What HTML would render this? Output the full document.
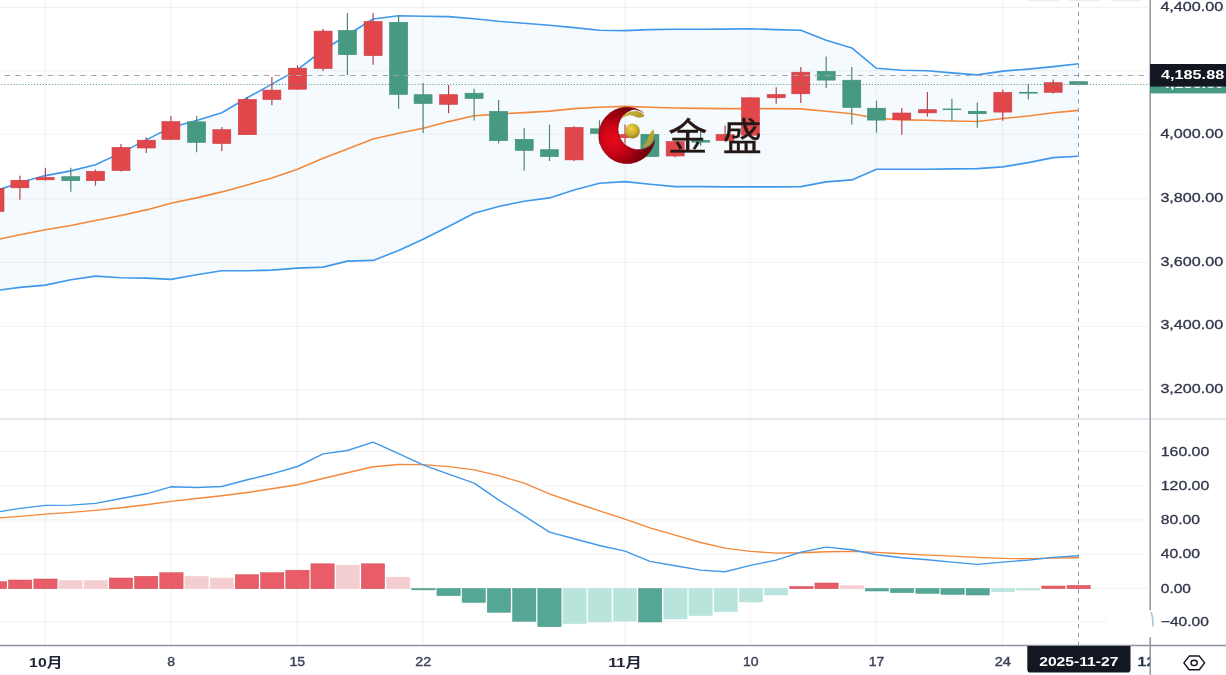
<!DOCTYPE html>
<html lang="zh"><head><meta charset="utf-8"><title>chart</title>
<style>html,body{margin:0;padding:0;background:#fff}body{width:1226px;height:675px;overflow:hidden}svg{display:block}text{font-family:"Liberation Sans","Noto Sans CJK SC",sans-serif}</style></head><body>
<svg width="1226" height="675" viewBox="0 0 1226 675">
<defs><radialGradient id="rg" gradientUnits="userSpaceOnUse" cx="614" cy="139.5" r="34"><stop offset="0" stop-color="#e80a1b"/><stop offset="0.35" stop-color="#cf0517"/><stop offset="0.7" stop-color="#a00010"/><stop offset="1" stop-color="#70000a"/></radialGradient><radialGradient id="gb" gradientUnits="userSpaceOnUse" cx="631" cy="128.5" r="10"><stop offset="0" stop-color="#efd648"/><stop offset="0.6" stop-color="#c9ae2e"/><stop offset="1" stop-color="#9c8620"/></radialGradient><linearGradient id="gl" x1="0" y1="0" x2="1" y2="1"><stop offset="0" stop-color="#d2b936"/><stop offset="1" stop-color="#a8902a"/></linearGradient></defs>
<rect width="1226" height="675" fill="#fff"/>
<rect x="1028.0" y="-3" width="31.0" height="4.2" rx="2" fill="#eceef2"/>
<rect x="1069.2" y="-3" width="30.7" height="4.2" rx="2" fill="#eceef2"/>
<rect x="1110.3" y="-3" width="31.3" height="4.2" rx="2" fill="#eceef2"/>
<line x1="0" x2="1148" y1="7.4" y2="7.4" stroke="#000" stroke-opacity="0.05" stroke-width="1.15"/>
<line x1="0" x2="1148" y1="70.7" y2="70.7" stroke="#000" stroke-opacity="0.05" stroke-width="1.15"/>
<line x1="0" x2="1148" y1="134.2" y2="134.2" stroke="#000" stroke-opacity="0.05" stroke-width="1.15"/>
<line x1="0" x2="1148" y1="198.8" y2="198.8" stroke="#000" stroke-opacity="0.05" stroke-width="1.15"/>
<line x1="0" x2="1148" y1="262.5" y2="262.5" stroke="#000" stroke-opacity="0.05" stroke-width="1.15"/>
<line x1="0" x2="1148" y1="326.5" y2="326.5" stroke="#000" stroke-opacity="0.05" stroke-width="1.15"/>
<line x1="0" x2="1148" y1="390.0" y2="390.0" stroke="#000" stroke-opacity="0.05" stroke-width="1.15"/>
<line x1="0" x2="1148" y1="451.4" y2="451.4" stroke="#000" stroke-opacity="0.05" stroke-width="1.15"/>
<line x1="0" x2="1148" y1="485.7" y2="485.7" stroke="#000" stroke-opacity="0.05" stroke-width="1.15"/>
<line x1="0" x2="1148" y1="519.9" y2="519.9" stroke="#000" stroke-opacity="0.05" stroke-width="1.15"/>
<line x1="0" x2="1148" y1="554.0" y2="554.0" stroke="#000" stroke-opacity="0.05" stroke-width="1.15"/>
<line x1="0" x2="1148" y1="588.3" y2="588.3" stroke="#000" stroke-opacity="0.05" stroke-width="1.15"/>
<line x1="0" x2="1107" y1="621.6" y2="621.6" stroke="#000" stroke-opacity="0.05" stroke-width="1.15"/>
<line x1="45.0" x2="45.0" y1="0" y2="645" stroke="#000" stroke-opacity="0.035" stroke-width="1.8"/>
<line x1="171.0" x2="171.0" y1="0" y2="645" stroke="#000" stroke-opacity="0.035" stroke-width="1.8"/>
<line x1="297.0" x2="297.0" y1="0" y2="645" stroke="#000" stroke-opacity="0.035" stroke-width="1.8"/>
<line x1="423.0" x2="423.0" y1="0" y2="645" stroke="#000" stroke-opacity="0.035" stroke-width="1.8"/>
<line x1="625.0" x2="625.0" y1="0" y2="645" stroke="#000" stroke-opacity="0.035" stroke-width="1.8"/>
<line x1="750.4" x2="750.4" y1="0" y2="645" stroke="#000" stroke-opacity="0.035" stroke-width="1.8"/>
<line x1="876.4" x2="876.4" y1="0" y2="645" stroke="#000" stroke-opacity="0.035" stroke-width="1.8"/>
<line x1="1002.5" x2="1002.5" y1="0" y2="645" stroke="#000" stroke-opacity="0.035" stroke-width="1.8"/>
<polygon points="-5.0,191.2 19.9,182.5 45.4,175.6 70.8,170.9 95.5,164.8 121.0,152.9 146.3,139.9 170.9,127.4 196.6,120.6 221.8,112.8 247.3,97.8 271.9,84.1 297.5,69.6 323.1,50.0 347.4,35.0 373.1,19.0 398.6,15.8 423.1,16.3 448.6,16.6 474.1,18.8 498.6,21.3 524.2,23.3 549.5,25.3 574.1,27.6 599.5,30.3 625.0,30.6 649.9,29.6 675.2,29.3 700.6,29.3 725.1,29.1 750.5,28.8 776.2,29.6 800.8,30.3 826.2,40.3 851.8,47.9 876.5,68.3 901.8,70.3 927.4,70.8 951.9,72.9 977.3,74.9 1002.8,71.1 1028.3,69.1 1053.2,66.6 1078.7,63.8 1078.7,156.3 1053.2,157.6 1028.3,162.6 1002.8,166.9 977.3,168.6 951.9,168.9 927.4,169.3 901.8,169.3 876.5,169.3 851.8,179.9 826.2,181.9 800.8,186.6 776.2,186.9 750.5,186.9 725.1,186.9 700.6,186.6 675.2,186.6 649.9,184.2 625.0,181.6 599.5,183.2 574.1,189.9 549.5,197.9 524.2,201.2 498.6,206.5 474.1,213.2 448.6,226.5 423.1,239.2 398.6,250.5 373.1,260.4 347.4,261.1 323.1,267.1 297.5,268.1 271.9,270.1 247.3,270.8 221.8,270.8 196.6,274.8 170.9,279.4 146.3,278.1 121.0,277.8 95.5,276.1 70.8,279.8 45.4,285.1 19.9,287.4 -5.0,290.6" fill="#2196f3" fill-opacity="0.048"/>
<line x1="0" x2="1226" y1="419" y2="419" stroke="#dfe2ea" stroke-width="1.4"/>
<polyline fill="none" stroke="#f3883a" stroke-width="1.6" stroke-linejoin="round" points="-5.0,240.1 19.9,234.8 45.4,229.8 70.8,225.5 95.5,220.5 121.0,215.5 146.3,209.9 170.9,203.2 196.6,197.9 221.8,191.9 247.3,184.9 271.9,177.9 297.5,169.3 323.1,158.3 347.4,149.0 373.1,139.0 398.6,133.3 423.1,128.2 448.6,121.6 474.1,115.8 498.6,114.1 524.2,112.6 549.5,111.1 574.1,108.6 599.5,107.2 625.0,106.4 649.9,107.2 675.2,108.0 700.6,108.4 725.1,108.6 750.5,108.6 776.2,108.6 800.8,108.9 826.2,111.2 851.8,113.7 876.5,118.2 901.8,119.9 927.4,120.2 951.9,121.0 977.3,121.5 1002.8,118.5 1028.3,116.0 1053.2,112.7 1078.7,110.4"/>
<polyline fill="none" stroke="#3f98e9" stroke-width="1.6" stroke-linejoin="round" points="-5.0,191.2 19.9,182.5 45.4,175.6 70.8,170.9 95.5,164.8 121.0,152.9 146.3,139.9 170.9,127.4 196.6,120.6 221.8,112.8 247.3,97.8 271.9,84.1 297.5,69.6 323.1,50.0 347.4,35.0 373.1,19.0 398.6,15.8 423.1,16.3 448.6,16.6 474.1,18.8 498.6,21.3 524.2,23.3 549.5,25.3 574.1,27.6 599.5,30.3 625.0,30.6 649.9,29.6 675.2,29.3 700.6,29.3 725.1,29.1 750.5,28.8 776.2,29.6 800.8,30.3 826.2,40.3 851.8,47.9 876.5,68.3 901.8,70.3 927.4,70.8 951.9,72.9 977.3,74.9 1002.8,71.1 1028.3,69.1 1053.2,66.6 1078.7,63.8"/>
<polyline fill="none" stroke="#3f98e9" stroke-width="1.6" stroke-linejoin="round" points="-5.0,290.6 19.9,287.4 45.4,285.1 70.8,279.8 95.5,276.1 121.0,277.8 146.3,278.1 170.9,279.4 196.6,274.8 221.8,270.8 247.3,270.8 271.9,270.1 297.5,268.1 323.1,267.1 347.4,261.1 373.1,260.4 398.6,250.5 423.1,239.2 448.6,226.5 474.1,213.2 498.6,206.5 524.2,201.2 549.5,197.9 574.1,189.9 599.5,183.2 625.0,181.6 649.9,184.2 675.2,186.6 700.6,186.6 725.1,186.9 750.5,186.9 776.2,186.9 800.8,186.6 826.2,181.9 851.8,179.9 876.5,169.3 901.8,169.3 927.4,169.3 951.9,168.9 977.3,168.6 1002.8,166.9 1028.3,162.6 1053.2,157.6 1078.7,156.3"/>
<line x1="-5.0" x2="-5.0" y1="186.0" y2="213.0" stroke="#b2464e" stroke-width="1.2"/>
<rect x="-14.0" y="188.3" width="18" height="23.1" fill="#e1464b" stroke="#c83c45" stroke-width="0.6"/>
<line x1="19.9" x2="19.9" y1="175.7" y2="199.8" stroke="#b2464e" stroke-width="1.2"/>
<rect x="10.9" y="180.3" width="18" height="7.5" fill="#e1464b" stroke="#c83c45" stroke-width="0.6"/>
<line x1="45.4" x2="45.4" y1="167.8" y2="180.8" stroke="#b2464e" stroke-width="1.2"/>
<rect x="36.0" y="177.1" width="18.6" height="3.0" fill="#e1464b"/>
<line x1="70.8" x2="70.8" y1="167.8" y2="191.8" stroke="#4f8a6c" stroke-width="1.2"/>
<rect x="61.8" y="176.7" width="18" height="4.0" fill="#469a82" stroke="#3e8d76" stroke-width="0.6"/>
<line x1="95.5" x2="95.5" y1="169.5" y2="185.7" stroke="#b2464e" stroke-width="1.2"/>
<rect x="86.5" y="171.3" width="18" height="9.4" fill="#e1464b" stroke="#c83c45" stroke-width="0.6"/>
<line x1="121.0" x2="121.0" y1="144.0" y2="171.5" stroke="#b2464e" stroke-width="1.2"/>
<rect x="112.0" y="147.4" width="18" height="23.1" fill="#e1464b" stroke="#c83c45" stroke-width="0.6"/>
<line x1="146.3" x2="146.3" y1="137.3" y2="153.1" stroke="#b2464e" stroke-width="1.2"/>
<rect x="137.3" y="140.2" width="18" height="7.8" fill="#e1464b" stroke="#c83c45" stroke-width="0.6"/>
<line x1="170.9" x2="170.9" y1="116.1" y2="139.7" stroke="#b2464e" stroke-width="1.2"/>
<rect x="161.9" y="121.6" width="18" height="17.8" fill="#e1464b" stroke="#c83c45" stroke-width="0.6"/>
<line x1="196.6" x2="196.6" y1="116.0" y2="152.3" stroke="#4f8a6c" stroke-width="1.2"/>
<rect x="187.6" y="121.8" width="18" height="20.6" fill="#469a82" stroke="#3e8d76" stroke-width="0.6"/>
<line x1="221.8" x2="221.8" y1="127.0" y2="151.0" stroke="#b2464e" stroke-width="1.2"/>
<rect x="212.8" y="129.7" width="18" height="13.8" fill="#e1464b" stroke="#c83c45" stroke-width="0.6"/>
<line x1="247.3" x2="247.3" y1="97.0" y2="135.0" stroke="#b2464e" stroke-width="1.2"/>
<rect x="238.3" y="99.4" width="18" height="35.3" fill="#e1464b" stroke="#c83c45" stroke-width="0.6"/>
<line x1="271.9" x2="271.9" y1="77.0" y2="105.2" stroke="#b2464e" stroke-width="1.2"/>
<rect x="262.9" y="90.1" width="18" height="9.4" fill="#e1464b" stroke="#c83c45" stroke-width="0.6"/>
<line x1="297.5" x2="297.5" y1="65.2" y2="89.5" stroke="#b2464e" stroke-width="1.2"/>
<rect x="288.5" y="68.2" width="18" height="21.0" fill="#e1464b" stroke="#c83c45" stroke-width="0.6"/>
<line x1="323.1" x2="323.1" y1="29.1" y2="71.0" stroke="#b2464e" stroke-width="1.2"/>
<rect x="314.1" y="31.1" width="18" height="37.4" fill="#e1464b" stroke="#c83c45" stroke-width="0.6"/>
<line x1="347.4" x2="347.4" y1="13.0" y2="74.9" stroke="#4f8a6c" stroke-width="1.2"/>
<rect x="338.4" y="30.4" width="18" height="24.3" fill="#469a82" stroke="#3e8d76" stroke-width="0.6"/>
<line x1="373.1" x2="373.1" y1="13.0" y2="64.8" stroke="#b2464e" stroke-width="1.2"/>
<rect x="364.1" y="21.5" width="18" height="34.1" fill="#e1464b" stroke="#c83c45" stroke-width="0.6"/>
<line x1="398.6" x2="398.6" y1="15.0" y2="108.8" stroke="#4f8a6c" stroke-width="1.2"/>
<rect x="389.6" y="22.3" width="18" height="72.1" fill="#469a82" stroke="#3e8d76" stroke-width="0.6"/>
<line x1="423.1" x2="423.1" y1="83.0" y2="132.9" stroke="#4f8a6c" stroke-width="1.2"/>
<rect x="414.1" y="94.7" width="18" height="8.8" fill="#469a82" stroke="#3e8d76" stroke-width="0.6"/>
<line x1="448.6" x2="448.6" y1="85.0" y2="113.3" stroke="#b2464e" stroke-width="1.2"/>
<rect x="439.6" y="94.7" width="18" height="9.6" fill="#e1464b" stroke="#c83c45" stroke-width="0.6"/>
<line x1="474.1" x2="474.1" y1="88.8" y2="120.4" stroke="#4f8a6c" stroke-width="1.2"/>
<rect x="465.1" y="93.2" width="18" height="5.3" fill="#469a82" stroke="#3e8d76" stroke-width="0.6"/>
<line x1="498.6" x2="498.6" y1="100.0" y2="143.6" stroke="#4f8a6c" stroke-width="1.2"/>
<rect x="489.6" y="111.4" width="18" height="29.3" fill="#469a82" stroke="#3e8d76" stroke-width="0.6"/>
<line x1="524.2" x2="524.2" y1="127.9" y2="170.7" stroke="#4f8a6c" stroke-width="1.2"/>
<rect x="515.2" y="139.3" width="18" height="11.1" fill="#469a82" stroke="#3e8d76" stroke-width="0.6"/>
<line x1="549.5" x2="549.5" y1="124.6" y2="161.0" stroke="#4f8a6c" stroke-width="1.2"/>
<rect x="540.5" y="149.7" width="18" height="6.9" fill="#469a82" stroke="#3e8d76" stroke-width="0.6"/>
<line x1="574.1" x2="574.1" y1="126.3" y2="161.0" stroke="#b2464e" stroke-width="1.2"/>
<rect x="565.1" y="127.4" width="18" height="32.5" fill="#e1464b" stroke="#c83c45" stroke-width="0.6"/>
<line x1="599.5" x2="599.5" y1="120.2" y2="143.6" stroke="#4f8a6c" stroke-width="1.2"/>
<rect x="590.5" y="128.8" width="18" height="4.6" fill="#469a82" stroke="#3e8d76" stroke-width="0.6"/>
<line x1="625.0" x2="625.0" y1="124.4" y2="143.6" stroke="#b2464e" stroke-width="1.2"/>
<rect x="616.0" y="134.5" width="18" height="3.1" fill="#e1464b" stroke="#c83c45" stroke-width="0.6"/>
<rect x="640.9" y="134.3" width="18" height="22.3" fill="#469a82" stroke="#3e8d76" stroke-width="0.6"/>
<line x1="675.2" x2="675.2" y1="141.3" y2="157.2" stroke="#b2464e" stroke-width="1.2"/>
<rect x="666.2" y="141.6" width="18" height="14.4" fill="#e1464b" stroke="#c83c45" stroke-width="0.6"/>
<line x1="700.6" x2="700.6" y1="131.9" y2="145.8" stroke="#4f8a6c" stroke-width="1.2"/>
<rect x="691.3" y="140.1" width="18.6" height="2.5" fill="#469a82"/>
<line x1="725.1" x2="725.1" y1="125.6" y2="142.0" stroke="#b2464e" stroke-width="1.2"/>
<rect x="716.1" y="134.5" width="18" height="6.1" fill="#e1464b" stroke="#c83c45" stroke-width="0.6"/>
<line x1="750.5" x2="750.5" y1="97.0" y2="136.0" stroke="#b2464e" stroke-width="1.2"/>
<rect x="741.5" y="97.8" width="18" height="37.4" fill="#e1464b" stroke="#c83c45" stroke-width="0.6"/>
<line x1="776.2" x2="776.2" y1="87.2" y2="103.7" stroke="#b2464e" stroke-width="1.2"/>
<rect x="767.2" y="94.5" width="18" height="3.3" fill="#e1464b" stroke="#c83c45" stroke-width="0.6"/>
<line x1="800.8" x2="800.8" y1="67.0" y2="102.9" stroke="#b2464e" stroke-width="1.2"/>
<rect x="791.8" y="72.2" width="18" height="21.6" fill="#e1464b" stroke="#c83c45" stroke-width="0.6"/>
<line x1="826.2" x2="826.2" y1="56.6" y2="87.9" stroke="#4f8a6c" stroke-width="1.2"/>
<rect x="817.2" y="71.4" width="18" height="8.7" fill="#469a82" stroke="#3e8d76" stroke-width="0.6"/>
<line x1="851.8" x2="851.8" y1="67.1" y2="124.5" stroke="#4f8a6c" stroke-width="1.2"/>
<rect x="842.8" y="80.2" width="18" height="27.2" fill="#469a82" stroke="#3e8d76" stroke-width="0.6"/>
<line x1="876.5" x2="876.5" y1="100.7" y2="132.7" stroke="#4f8a6c" stroke-width="1.2"/>
<rect x="867.5" y="108.2" width="18" height="11.9" fill="#469a82" stroke="#3e8d76" stroke-width="0.6"/>
<line x1="901.8" x2="901.8" y1="107.9" y2="134.8" stroke="#b2464e" stroke-width="1.2"/>
<rect x="892.8" y="113.0" width="18" height="6.6" fill="#e1464b" stroke="#c83c45" stroke-width="0.6"/>
<line x1="927.4" x2="927.4" y1="91.9" y2="116.5" stroke="#b2464e" stroke-width="1.2"/>
<rect x="918.4" y="109.7" width="18" height="3.2" fill="#e1464b" stroke="#c83c45" stroke-width="0.6"/>
<line x1="951.9" x2="951.9" y1="99.1" y2="120.7" stroke="#4f8a6c" stroke-width="1.2"/>
<rect x="942.6" y="108.6" width="18.6" height="1.4" fill="#469a82"/>
<line x1="977.3" x2="977.3" y1="102.4" y2="127.7" stroke="#4f8a6c" stroke-width="1.2"/>
<rect x="968.0" y="111.0" width="18.6" height="3.0" fill="#469a82"/>
<line x1="1002.8" x2="1002.8" y1="89.6" y2="120.7" stroke="#b2464e" stroke-width="1.2"/>
<rect x="993.8" y="92.4" width="18" height="19.7" fill="#e1464b" stroke="#c83c45" stroke-width="0.6"/>
<line x1="1028.3" x2="1028.3" y1="84.1" y2="99.6" stroke="#4f8a6c" stroke-width="1.2"/>
<rect x="1019.0" y="91.9" width="18.6" height="1.7" fill="#469a82"/>
<line x1="1053.2" x2="1053.2" y1="79.4" y2="93.6" stroke="#b2464e" stroke-width="1.2"/>
<rect x="1044.2" y="82.7" width="18" height="9.6" fill="#e1464b" stroke="#c83c45" stroke-width="0.6"/>
<rect x="1069.7" y="81.7" width="18" height="2.7" fill="#469a82" stroke="#3e8d76" stroke-width="0.6"/>
<rect x="-16.6" y="581.6" width="23.3" height="7.1" fill="#e85d67" stroke="#c9505a" stroke-width="0.5"/>
<rect x="8.5" y="580.0" width="23.3" height="8.7" fill="#e85d67" stroke="#c9505a" stroke-width="0.5"/>
<rect x="33.8" y="579.0" width="23.3" height="9.7" fill="#e85d67" stroke="#c9505a" stroke-width="0.5"/>
<rect x="58.9" y="580.6" width="23.3" height="8.1" fill="#f4cdd0" stroke="#f4cdd0" stroke-width="0.5"/>
<rect x="84.1" y="580.6" width="23.3" height="8.1" fill="#f4cdd0" stroke="#f4cdd0" stroke-width="0.5"/>
<rect x="109.3" y="578.0" width="23.3" height="10.7" fill="#e85d67" stroke="#c9505a" stroke-width="0.5"/>
<rect x="134.5" y="576.3" width="23.3" height="12.4" fill="#e85d67" stroke="#c9505a" stroke-width="0.5"/>
<rect x="159.8" y="572.7" width="23.3" height="16.0" fill="#e85d67" stroke="#c9505a" stroke-width="0.5"/>
<rect x="184.9" y="576.3" width="23.3" height="12.4" fill="#f4cdd0" stroke="#f4cdd0" stroke-width="0.5"/>
<rect x="210.2" y="578.0" width="23.3" height="10.7" fill="#f4cdd0" stroke="#f4cdd0" stroke-width="0.5"/>
<rect x="235.3" y="574.7" width="23.3" height="14.0" fill="#e85d67" stroke="#c9505a" stroke-width="0.5"/>
<rect x="260.6" y="572.7" width="23.3" height="16.0" fill="#e85d67" stroke="#c9505a" stroke-width="0.5"/>
<rect x="285.8" y="570.2" width="23.3" height="18.5" fill="#e85d67" stroke="#c9505a" stroke-width="0.5"/>
<rect x="310.9" y="563.8" width="23.3" height="24.9" fill="#e85d67" stroke="#c9505a" stroke-width="0.5"/>
<rect x="336.1" y="565.1" width="23.3" height="23.6" fill="#f4cdd0" stroke="#f4cdd0" stroke-width="0.5"/>
<rect x="361.3" y="563.8" width="23.3" height="24.9" fill="#e85d67" stroke="#c9505a" stroke-width="0.5"/>
<rect x="386.6" y="577.2" width="23.3" height="11.5" fill="#f4cdd0" stroke="#f4cdd0" stroke-width="0.5"/>
<rect x="411.8" y="588.5" width="23.3" height="1.4" fill="#54a794" stroke="#4a9785" stroke-width="0.5"/>
<rect x="436.9" y="588.5" width="23.3" height="7.2" fill="#54a794" stroke="#4a9785" stroke-width="0.5"/>
<rect x="462.1" y="588.5" width="23.3" height="13.9" fill="#54a794" stroke="#4a9785" stroke-width="0.5"/>
<rect x="487.3" y="588.5" width="23.3" height="23.8" fill="#54a794" stroke="#4a9785" stroke-width="0.5"/>
<rect x="512.6" y="588.5" width="23.3" height="32.8" fill="#54a794" stroke="#4a9785" stroke-width="0.5"/>
<rect x="537.8" y="588.5" width="23.3" height="38.2" fill="#54a794" stroke="#4a9785" stroke-width="0.5"/>
<rect x="562.9" y="588.5" width="23.3" height="35.2" fill="#b8e4dc" stroke="#b8e4dc" stroke-width="0.5"/>
<rect x="588.1" y="588.5" width="23.3" height="33.5" fill="#b8e4dc" stroke="#b8e4dc" stroke-width="0.5"/>
<rect x="613.4" y="588.5" width="23.3" height="32.5" fill="#b8e4dc" stroke="#b8e4dc" stroke-width="0.5"/>
<rect x="638.5" y="588.5" width="23.3" height="33.5" fill="#54a794" stroke="#4a9785" stroke-width="0.5"/>
<rect x="663.8" y="588.5" width="23.3" height="30.5" fill="#b8e4dc" stroke="#b8e4dc" stroke-width="0.5"/>
<rect x="688.9" y="588.5" width="23.3" height="27.2" fill="#b8e4dc" stroke="#b8e4dc" stroke-width="0.5"/>
<rect x="714.1" y="588.5" width="23.3" height="23.2" fill="#b8e4dc" stroke="#b8e4dc" stroke-width="0.5"/>
<rect x="739.4" y="588.5" width="23.3" height="13.5" fill="#b8e4dc" stroke="#b8e4dc" stroke-width="0.5"/>
<rect x="764.5" y="588.5" width="23.3" height="6.5" fill="#b8e4dc" stroke="#b8e4dc" stroke-width="0.5"/>
<rect x="789.8" y="586.4" width="23.3" height="2.3" fill="#e85d67" stroke="#c9505a" stroke-width="0.5"/>
<rect x="814.9" y="583.0" width="23.3" height="5.7" fill="#e85d67" stroke="#c9505a" stroke-width="0.5"/>
<rect x="840.1" y="585.7" width="23.3" height="3.0" fill="#f4cdd0" stroke="#f4cdd0" stroke-width="0.5"/>
<rect x="865.4" y="588.5" width="23.3" height="2.5" fill="#54a794" stroke="#4a9785" stroke-width="0.5"/>
<rect x="890.5" y="588.5" width="23.3" height="4.2" fill="#54a794" stroke="#4a9785" stroke-width="0.5"/>
<rect x="915.8" y="588.5" width="23.3" height="4.9" fill="#54a794" stroke="#4a9785" stroke-width="0.5"/>
<rect x="940.9" y="588.5" width="23.3" height="5.9" fill="#54a794" stroke="#4a9785" stroke-width="0.5"/>
<rect x="966.1" y="588.5" width="23.3" height="6.5" fill="#54a794" stroke="#4a9785" stroke-width="0.5"/>
<rect x="991.4" y="588.5" width="23.3" height="3.2" fill="#b8e4dc" stroke="#b8e4dc" stroke-width="0.5"/>
<rect x="1016.6" y="588.5" width="23.3" height="1.5" fill="#b8e4dc" stroke="#b8e4dc" stroke-width="0.5"/>
<rect x="1041.8" y="586.0" width="23.3" height="2.7" fill="#e85d67" stroke="#c9505a" stroke-width="0.5"/>
<rect x="1067.0" y="585.4" width="23.3" height="3.3" fill="#e85d67" stroke="#c9505a" stroke-width="0.5"/>
<polyline fill="none" stroke="#f3883a" stroke-width="1.4" stroke-linejoin="round" points="-5.0,518.3 19.9,516.4 45.4,514.1 70.8,512.4 95.5,510.4 121.0,507.8 146.3,504.8 170.9,501.4 196.6,498.5 221.8,495.8 247.3,492.5 271.9,488.8 297.5,484.8 323.1,478.5 347.4,472.8 373.1,466.8 398.6,464.5 423.1,464.6 448.6,466.6 474.1,469.9 498.6,475.6 524.2,483.2 549.5,493.9 574.1,502.5 599.5,510.8 625.0,519.2 649.9,527.8 675.2,535.1 700.6,542.5 725.1,548.1 750.5,551.4 776.2,553.1 800.8,552.8 826.2,551.8 851.8,551.4 876.5,552.4 901.8,553.8 927.4,555.1 951.9,556.1 977.3,557.4 1002.8,558.4 1028.3,558.8 1053.2,558.1 1078.7,557.8"/>
<polyline fill="none" stroke="#3f98e9" stroke-width="1.4" stroke-linejoin="round" points="-5.0,512.4 19.9,508.4 45.4,505.4 70.8,505.1 95.5,503.4 121.0,498.5 146.3,493.8 170.9,486.8 196.6,487.5 221.8,486.5 247.3,479.8 271.9,473.8 297.5,466.5 323.1,453.9 347.4,450.5 373.1,442.2 398.6,453.6 423.1,464.9 448.6,474.2 474.1,483.2 498.6,499.9 524.2,515.8 549.5,532.1 574.1,538.8 599.5,545.5 625.0,551.1 649.9,561.4 675.2,565.8 700.6,570.1 725.1,571.7 750.5,565.4 776.2,560.1 800.8,552.1 826.2,547.1 851.8,549.8 876.5,554.8 901.8,557.8 927.4,559.8 951.9,562.1 977.3,564.4 1002.8,562.1 1028.3,560.1 1053.2,557.4 1078.7,555.8"/>
<g id="logo">
<path d="M636.21,108.73 A28.20,28.20 0 1 0 654.39,142.31 A20.60,20.60 0 1 1 636.21,108.73 Z" fill="url(#rg)" stroke="#86000e" stroke-opacity="0.75" stroke-width="0.9" stroke-linejoin="round"/>
<path d="M633.21,108.53 Q641,109.3 644.6,113.6 Q641,110.8 635.21,109.63 Z" fill="#7c0410"/>
<path d="M648.95,146.95 Q653.0,143.6 655.0,139.0 A28.2,28.2 0 0 1 654.39,142.31 A20.6,20.6 0 0 1 648.95,146.95 Z" fill="#7e000c"/>
<path d="M621.1,118.7 C623.5,114.5 629,111 635,111 C640,111 643.5,113.5 644.5,116 C642.5,117.8 638.5,118 636.5,117.2 C634,116 632,115 629.5,115.2 C626.5,115.5 624,117 621.1,118.7 Z" fill="url(#gl)"/>
<path d="M642,147.6 C645,144.5 647,141 648.5,137 C649.8,133.5 651.3,131 653.6,129.5 C654.6,132.5 654.3,136 653,139.5 C651.5,143.5 648.5,147 642,147.6 Z" fill="url(#gl)"/>
<circle cx="632.5" cy="131" r="7.4" fill="url(#gb)"/>
<text transform="translate(668,150.4) scale(1.05,1)" font-size="37.6" font-weight="400" fill="#231815" stroke="#231815" stroke-width="0.3" style="font-family:'Liberation Sans','Noto Sans CJK SC',sans-serif">金</text>
<text transform="translate(722.6,150.4) scale(1.05,1)" font-size="37.6" font-weight="400" fill="#231815" stroke="#231815" stroke-width="0.3" style="font-family:'Liberation Sans','Noto Sans CJK SC',sans-serif">盛</text>
</g>
<line x1="4.5" x2="1150" y1="75.5" y2="75.5" stroke="#a3a6ae" stroke-width="1.1" stroke-dasharray="5.5 5.3"/>
<line x1="1.6" x2="1150" y1="84.5" y2="84.5" stroke="#4a8a76" stroke-opacity="0.85" stroke-width="1" stroke-dasharray="1.1 1.85"/>
<line x1="1078.5" x2="1078.5" y1="2.9" y2="645" stroke="#90939d" stroke-width="1" stroke-dasharray="4.1 4.65"/>
<rect x="1151" y="0" width="75" height="418" fill="#fff"/>
<line x1="1150.2" x2="1150.2" y1="0" y2="610.2" stroke="#8e92a3" stroke-width="1.5"/>
<line x1="1150.2" x2="1150.2" y1="637.2" y2="675" stroke="#8e92a3" stroke-width="1.5"/>
<path d="M1151,612 Q1153.6,619 1152.6,626.5" fill="none" stroke="#a9c6da" stroke-width="1.6"/>
<line x1="0" x2="1226" y1="645.5" y2="645.5" stroke="#8e92a3" stroke-width="1.4"/>
<text x="1160.4" y="11.4" font-size="12.9" font-weight="normal" fill="#30364a" stroke="#30364a" stroke-width="0.30" textLength="62.8" lengthAdjust="spacingAndGlyphs" text-anchor="start">4,400.00</text>
<text x="1160.4" y="138.2" font-size="12.9" font-weight="normal" fill="#30364a" stroke="#30364a" stroke-width="0.30" textLength="62.8" lengthAdjust="spacingAndGlyphs" text-anchor="start">4,000.00</text>
<text x="1160.4" y="201.9" font-size="12.9" font-weight="normal" fill="#30364a" stroke="#30364a" stroke-width="0.30" textLength="62.8" lengthAdjust="spacingAndGlyphs" text-anchor="start">3,800.00</text>
<text x="1160.4" y="265.6" font-size="12.9" font-weight="normal" fill="#30364a" stroke="#30364a" stroke-width="0.30" textLength="62.8" lengthAdjust="spacingAndGlyphs" text-anchor="start">3,600.00</text>
<text x="1160.4" y="329.3" font-size="12.9" font-weight="normal" fill="#30364a" stroke="#30364a" stroke-width="0.30" textLength="62.8" lengthAdjust="spacingAndGlyphs" text-anchor="start">3,400.00</text>
<text x="1160.4" y="393.3" font-size="12.9" font-weight="normal" fill="#30364a" stroke="#30364a" stroke-width="0.30" textLength="62.8" lengthAdjust="spacingAndGlyphs" text-anchor="start">3,200.00</text>
<text x="1160.8" y="455.7" font-size="12.9" font-weight="normal" fill="#30364a" stroke="#30364a" stroke-width="0.30" textLength="48.4" lengthAdjust="spacingAndGlyphs" text-anchor="start">160.00</text>
<text x="1160.8" y="490.0" font-size="12.9" font-weight="normal" fill="#30364a" stroke="#30364a" stroke-width="0.30" textLength="48.4" lengthAdjust="spacingAndGlyphs" text-anchor="start">120.00</text>
<text x="1160.8" y="524.2" font-size="12.9" font-weight="normal" fill="#30364a" stroke="#30364a" stroke-width="0.30" textLength="39.3" lengthAdjust="spacingAndGlyphs" text-anchor="start">80.00</text>
<text x="1160.8" y="558.4" font-size="12.9" font-weight="normal" fill="#30364a" stroke="#30364a" stroke-width="0.30" textLength="39.3" lengthAdjust="spacingAndGlyphs" text-anchor="start">40.00</text>
<text x="1160.8" y="592.6" font-size="12.9" font-weight="normal" fill="#30364a" stroke="#30364a" stroke-width="0.30" textLength="30.2" lengthAdjust="spacingAndGlyphs" text-anchor="start">0.00</text>
<text x="1160.9" y="626.2" font-size="12.9" font-weight="normal" fill="#30364a" stroke="#30364a" stroke-width="0.30" textLength="47.9" lengthAdjust="spacingAndGlyphs" text-anchor="start">−40.00</text>
<rect x="1150.1" y="73" width="76" height="20.4" fill="#469a82"/>
<text x="1161.0" y="87.7" font-size="13.0" font-weight="bold" fill="#fff" stroke="#fff" stroke-width="0.00" textLength="63.0" lengthAdjust="spacingAndGlyphs" text-anchor="start">4,156.60</text>
<rect x="1150.1" y="64" width="76" height="22.6" fill="#131722"/>
<text x="1161.0" y="79.2" font-size="13.2" font-weight="bold" fill="#fff" stroke="#fff" stroke-width="0.00" textLength="63.2" lengthAdjust="spacingAndGlyphs" text-anchor="start">4,185.88</text>
<text x="45.8" y="666.5" font-size="13.2" font-weight="bold" fill="#1f2433" stroke="#1f2433" stroke-width="0.00" textLength="33.4" lengthAdjust="spacingAndGlyphs" text-anchor="middle">10月</text>
<text x="171.1" y="666.4" font-size="12.9" font-weight="normal" fill="#3a4258" stroke="#3a4258" stroke-width="0.40" textLength="7.8" lengthAdjust="spacingAndGlyphs" text-anchor="middle">8</text>
<text x="297.2" y="666.4" font-size="12.9" font-weight="normal" fill="#3a4258" stroke="#3a4258" stroke-width="0.40" textLength="15.6" lengthAdjust="spacingAndGlyphs" text-anchor="middle">15</text>
<text x="423.2" y="666.4" font-size="12.9" font-weight="normal" fill="#3a4258" stroke="#3a4258" stroke-width="0.40" textLength="15.8" lengthAdjust="spacingAndGlyphs" text-anchor="middle">22</text>
<text x="625.0" y="666.5" font-size="13.2" font-weight="bold" fill="#1f2433" stroke="#1f2433" stroke-width="0.00" textLength="33.6" lengthAdjust="spacingAndGlyphs" text-anchor="middle">11月</text>
<text x="750.8" y="666.4" font-size="12.9" font-weight="normal" fill="#3a4258" stroke="#3a4258" stroke-width="0.40" textLength="15.6" lengthAdjust="spacingAndGlyphs" text-anchor="middle">10</text>
<text x="876.6" y="666.4" font-size="12.9" font-weight="normal" fill="#3a4258" stroke="#3a4258" stroke-width="0.40" textLength="15.6" lengthAdjust="spacingAndGlyphs" text-anchor="middle">17</text>
<text x="1002.8" y="666.4" font-size="12.9" font-weight="normal" fill="#3a4258" stroke="#3a4258" stroke-width="0.40" textLength="16.2" lengthAdjust="spacingAndGlyphs" text-anchor="middle">24</text>
<clipPath id="cp"><rect x="1130" y="646" width="19.6" height="29"/></clipPath>
<g clip-path="url(#cp)"><text x="1137.6" y="666.4" font-size="12.9" font-weight="normal" fill="#283250" stroke="#283250" stroke-width="0.6" textLength="18" lengthAdjust="spacingAndGlyphs">12</text></g>
<path d="M1027.3,646 H1130.5 V669.5 Q1130.5,672.6 1127.4,672.6 H1030.4 Q1027.3,672.6 1027.3,669.5 Z" fill="#131722"/>
<text x="1078.8" y="666.1" font-size="13.2" font-weight="bold" fill="#fff" textLength="79.2" lengthAdjust="spacingAndGlyphs" text-anchor="middle">2025-11-27</text>
<path d="M1183.9,662.9 L1189.2,656.1 H1199.3 L1204.6,662.9 L1199.3,669.7 H1189.2 Z" fill="none" stroke="#131722" stroke-width="1.5" stroke-linejoin="round"/>
<ellipse cx="1194.1" cy="662.9" rx="3.1" ry="2.6" fill="none" stroke="#131722" stroke-width="1.4"/>
</svg></body></html>
